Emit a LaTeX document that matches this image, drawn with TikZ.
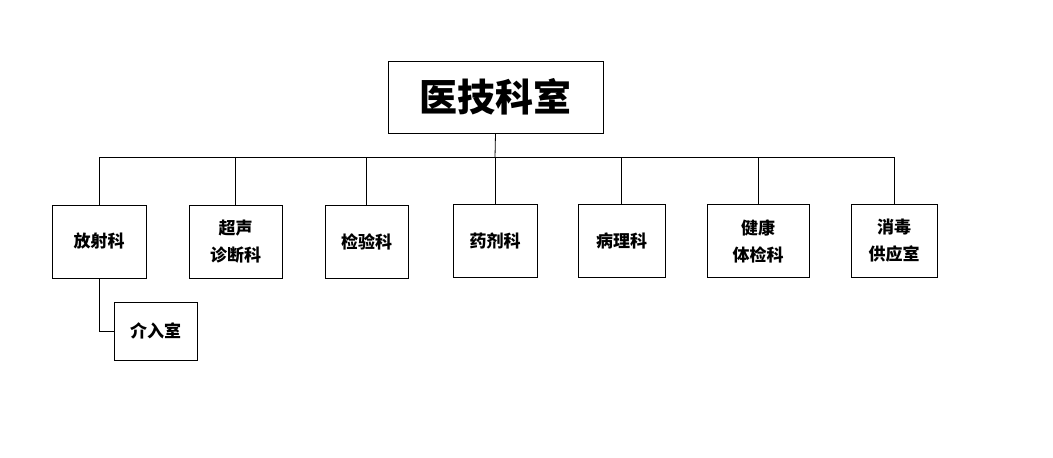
\documentclass[tikz,border=0pt]{standalone}
\usepackage{fontspec}
\newfontfamily\cjk{Noto Sans CJK SC}
\usetikzlibrary{positioning,calc}

\begin{document}
\begin{tikzpicture}[x=1pt,y=-1pt,
	dept/.style={draw,line width=0.8pt,minimum height=73pt,inner sep=2pt,align=center,font=\cjk\bfseries\fontsize{17}{27}\selectfont},
	head/.style={draw,line width=0.8pt,minimum width=215pt,minimum height=72pt,font=\cjk\bfseries\fontsize{38}{40}\selectfont},
	link/.style={line width=0.8pt}]
	\useasboundingbox (0,0) rectangle (1053,458);
	
	\node[head] (yjks) at (495.5,97) {医技科室};
	
	\node[dept,minimum width=94pt] (fsk) at (99,241.5) {放射科};
	\node[dept,minimum width=93pt] (csk) at (235.5,241.5) {超声\\诊断科};
	\node[dept,minimum width=83pt] (jyk) at (366.5,241.5) {检验科};
	\node[dept,minimum width=84pt] (yjk) at (495,240.5) {药剂科};
	\node[dept,minimum width=87pt] (blk) at (621.5,240.5) {病理科};
	\node[dept,minimum width=102pt] (jtk) at (758,241) {健康\\体检科};
	\node[dept,minimum width=86pt] (xds) at (894,241) {消毒\\供应室};
	
	\node[dept,minimum width=83pt,minimum height=58pt] (jrs) at (155.5,331) {介入室};
	
	\coordinate (bus) at (495,157.5);
	\draw[link] (yjks.south) -- (bus);
	\draw[link] (fsk.north) |- (bus) -| (xds.north);
	\foreach \k in {csk,jyk,yjk,blk,jtk}
		\draw[link] (\k.north) -- (\k.north |- bus);
	
	\draw[link] (fsk.south) |- (jrs.west);
\end{tikzpicture}
\end{document}
